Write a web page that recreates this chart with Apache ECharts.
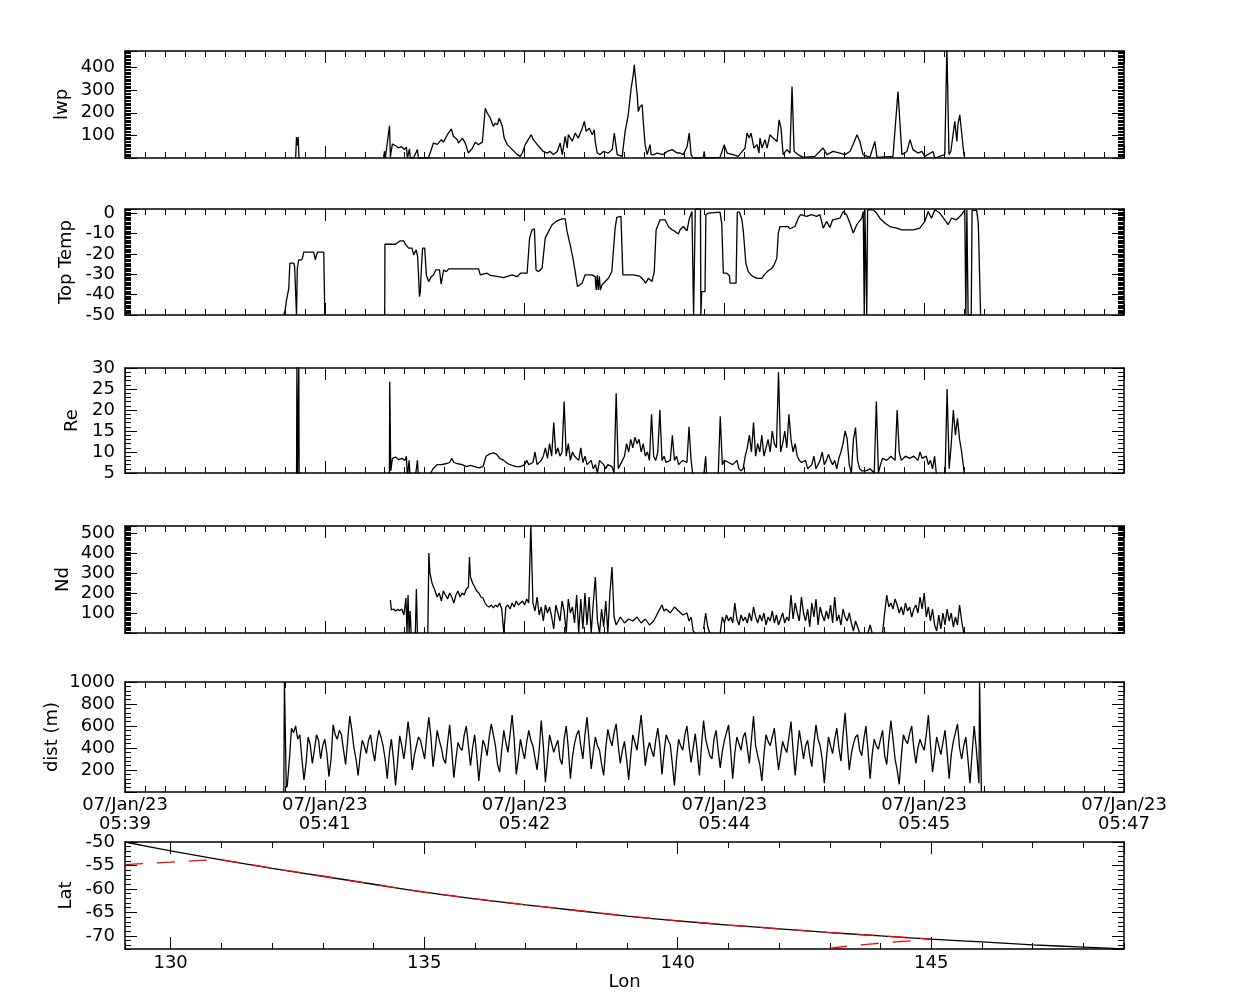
<!DOCTYPE html>
<html><head><meta charset="utf-8">
<script src="https://cdn.jsdelivr.net/npm/echarts@6/dist/echarts.min.js"></script>
<style>html,body{margin:0;padding:0;background:#fff}#c{width:1250px;height:1000px}</style>
</head><body><div id="c"></div>
<script>
// time in seconds after 07/Jan/23 05:39:00
const lwpData = [[82,0],[82.4,93],[82.8,55],[83.2,93],[83.6,0],[84,'-'],
[124.2,0],[124.7,30],[125.1,0],[127.1,143],[127.5,5],[128.5,62],[129.9,55],[131.4,45],[132.8,50],[134.3,38],[135.2,48],[135.7,0],[136.7,40],[137.1,0],[138.6,0],[140.5,37],[141,0],[145.8,0],[148.2,66],[150.1,60],[152,81],[153,70],[154.9,103],[156.8,129],[157.8,96],[159.7,81],[160.2,66],[162.1,88],[163.5,66],[165,22],[166.9,44],[168.3,70],[169.8,59],[171.7,70],[173.1,220],[174.1,198],[175.5,176],[177,140],[177.9,154],[178.9,147],[179.8,176],[181.3,140],[182.2,88],[183.7,59],[186.1,37],[188.5,15],[189.9,7],[190.9,22],[192.3,59],[195.2,103],[196.2,81],[198.1,59],[199.5,44],[201,29],[202.9,22],[204.3,29],[205.8,15],[207.7,29],[209.1,66],[210.1,15],[211.5,96],[212.5,44],[213,103],[214.9,74],[216.3,110],[217.8,88],[219.7,132],[220.7,162],[221.6,118],[223.1,132],[224.5,103],[225.5,125],[225.9,73],[226.9,22],[228.3,15],[229.8,29],[232.2,22],[234.1,37],[235.1,110],[236.5,15],[238.9,7],[240.3,118],[241.8,191],[243.2,309],[244.2,368],[244.7,412],[245.6,323],[246.1,279],[246.6,206],[247.5,228],[248.5,235],[249,162],[249.9,59],[250.9,15],[252.3,59],[252.8,15],[254.2,15],[255.7,22],[258.6,15],[260.5,29],[262.9,37],[265.3,22],[266.7,22],[268.2,15],[270.1,51],[271.1,110],[272,15],[273,0],[277.8,0],[278.3,29],[278.7,0],[285.9,3],[287.9,59],[289.3,22],[292.2,15],[294.6,7],[297.9,44],[298.9,110],[299.9,88],[300.8,110],[302.2,44],[303.7,59],[304.6,22],[305.1,88],[306.1,44],[307.5,81],[308.5,44],[309.9,103],[311.4,88],[313.3,73],[314.3,169],[315.2,132],[316.2,15],[318.1,37],[319.5,22],[320.5,316],[321.5,29],[323.4,15],[325.8,3],[331.5,7],[335.4,44],[337.3,15],[340.2,29],[343.5,22],[345.9,15],[348.3,29],[349.8,59],[351.7,103],[353.1,73],[354.6,15],[357.9,3],[360.3,73],[361.3,3],[369,7],[371.4,294],[373.3,15],[375.7,29],[377.2,81],[378.6,37],[381,22],[382.9,29],[384.3,7],[388.2,29],[389.1,0],[393.9,15],[394.9,490],[395.9,15],[396.8,30],[398.7,162],[399.7,73],[400.2,147],[401.1,191],[402.1,103],[403.1,15],[403.5,0]];

const tempData = [[76.2,-50],[76.9,-48],[77.6,-42.7],[78.2,-41.8],[78.7,-36.9],[79.2,-24.6],[81.1,-24.6],[81.5,-26.2],[81.9,-27],[82.4,-50],[82.8,-27],[83.5,-23],[84.8,-23],[85.3,-22],[85.9,-19.2],[90.6,-19.2],[91.5,-23],[92,-20.5],[92.6,-19.2],[95.5,-19.2],[96,-50],[96.3,'-'],
[124.8,-50],[124.9,-15.3],[129.9,-15.3],[132.3,-13.6],[133.9,-13.6],[134.7,-15.3],[136.3,-17.2],[137.9,-17.2],[138.7,-20.5],[139.9,-18],[140.6,-21.3],[141.5,-41],[141.9,-38.5],[142.4,-27],[143,-17.2],[144,-17.2],[144.8,-30.3],[145.9,-33.6],[147.2,-31.2],[148.3,-30.3],[149.3,-27.9],[151.1,-27.9],[151.9,-34.9],[153.1,-27.9],[154.4,-28.7],[155.5,-27.4],[169.9,-27.4],[170.7,-30.3],[174,-29.5],[175.5,-30.6],[179.5,-31.2],[181.9,-31.7],[186,-30.3],[188.4,-31.2],[190,-29.5],[193.2,-29.5],[194.4,-12.3],[195.6,-8.2],[196.7,-7.7],[197.5,-27.9],[198.7,-28.7],[200.4,-27.1],[201.1,-26.2],[201.9,-12.3],[203.5,-9],[205.2,-5.7],[207.6,-3.8],[210,-2.8],[211.5,-2.8],[212.4,-9],[213.9,-15.6],[215.2,-22],[216.3,-28.7],[217.4,-36],[219.6,-34.4],[221.1,-30.3],[224.4,-30.3],[225.9,-31.2],[226.4,-37.7],[226.9,-30.5],[227.4,-37.7],[227.9,-31],[228.4,-37.7],[229.2,-35.2],[230.7,-33.6],[232.3,-32],[233.9,-28.7],[235.5,-7.4],[236.3,-2.1],[238.3,-1.6],[239.2,-30.3],[244.3,-30.3],[247.5,-31.1],[249.1,-32.8],[250.1,-34.4],[251.5,-32],[253.2,-33.6],[254.3,-28.7],[255.2,-8.2],[257.1,-3.3],[259.5,-3.3],[261.1,-6.6],[262.8,-8.2],[264.3,-9],[265.9,-10.3],[266.7,-8.2],[268.3,-6.6],[270,-8.7],[271.2,-2.5],[272.4,0.8],[273,0.8],[273.2,-50],[273.6,-50],[274,2],[276.5,2],[276.7,-50],[277.1,-38.5],[278.7,-38.5],[279.1,-0.8],[280.3,0],[281.1,0.5],[285.9,0.5],[286.7,-4.9],[287.5,-29.5],[289.1,-29.5],[290.4,-30.6],[290.7,-34.4],[293.6,-34.4],[294.2,0.5],[295.2,0.5],[296.4,-3.3],[297.1,-9],[298.3,-24.6],[299.5,-28.7],[300.7,-30.3],[301.9,-31.2],[303.6,-32],[306,-32],[307.1,-30.3],[308.6,-28.7],[310.8,-27.1],[311.9,-25.4],[313.2,-22.1],[313.9,-9.8],[314.7,-6.6],[318.7,-6.6],[319.5,-7.7],[321.9,-6.6],[323.5,-2.5],[324.6,-0.8],[327.5,-1.6],[329.9,-0.8],[332.3,-1.6],[333.9,-0.8],[334.7,-4.1],[335.5,-7.4],[337.1,-4.1],[338.7,-7.1],[340,-3.3],[343.5,-2.5],[345.1,0.8],[346.7,-0.8],[348.3,-4.9],[349.9,-9.8],[351.6,-5.7],[354,-2.5],[354.7,0.8],[355.2,-50],[355.5,1.6],[356.4,-50],[356.8,1.6],[359.5,1.6],[361.1,0],[362.7,-2.5],[365.1,-4.9],[367.5,-6.6],[370.7,-7.4],[373.2,-8.2],[378.7,-8.2],[381.9,-7.4],[384.3,-4.1],[385.9,0.8],[387.5,-2.5],[389.1,1.6],[391.5,0],[393.9,-3.3],[395.5,-5.7],[397.1,-2.5],[399.5,-3.3],[401.9,-0.8],[403.5,1.6],[404,-50],[404.5,1.6],[405.1,-50],[406.6,-50],[407,1.3],[409.2,1.3],[410,-4.9],[410.8,-4.9],[411.1,-50]];

const reData = [[82.4,0],[82.6,31],[82.8,0],[83.3,0],[83.5,31],[83.7,0],[84,'-'],
[127,0],[127.2,26.7],[127.7,5.5],[128.5,8.5],[130,8.8],[131.5,8.2],[133,8.5],[134.5,8],[135.2,9],[135.7,4],[136.5,8],[137,4],[137.5,'-'],[139.5,4],[140.5,8],[141,4],[141.5,'-'],
[145.8,4],[148,6],[150,7],[152,7],[154,7.2],[156,7.5],[157,8.5],[158,7.5],[160,7.2],[162,7],[164,6.5],[166,6.8],[168,6.5],[170,6.2],[172,6.5],[173.5,9],[175,9.5],[177,9.8],[178.5,9.5],[180,8.5],[182,8],[184,7.2],[186,6.8],[188,6.5],[190,6.5],[192,7],[193,8],[194,7],[196,7.5],[197,10],[198,7],[200,8],[201,9],[202,11],[203,8.5],[204,12],[205,9],[206,17],[207,9.5],[208,11],[209,9],[210,10],[211,22],[212,9],[213,12],[214,8],[215,10],[216,9],[218,8],[219,11],[220,7.5],[221,9],[222,7],[224,8],[225,6],[226,7],[227,5],[228,8],[230,7],[231,6],[232,7],[234,6.5],[235,5],[236,24],[237,6],[238,7],[240,9],[241,12],[242,10],[243,13],[244,11],[245,13.5],[246,12],[247,13],[248,10],[249,12],[250,9],[251,10],[252,8],[253,19],[254,9],[255,8],[256,10],[257,20],[258,8],[259,9],[260,7.5],[262,8],[263,14],[264,8],[265,9],[266,7],[268,8],[270,7.5],[271,16],[272,8],[273,4],[273.5,'-'],[278,4],[279,9],[279.5,4],[280,'-'],
[285,4],[286,18.5],[287,7],[288,8],[290,7.5],[292,7],[294,8],[295,6],[296,5.5],[297,6],[298,9],[299,11],[300,14],[301,10],[302,17],[303,9],[304,12],[305,10],[306,14],[307,9],[308,11],[309,13],[310,10],[311,15],[312,12],[313,11],[314,29],[315,10],[316,12],[317,15],[318,11],[319,19],[320,13],[321,10],[322,12],[323,9],[324,8],[325,7.5],[327,8],[328,6],[330,7],[331,9],[332,6],[334,8],[335,10],[336,7],[337,8],[338,9.5],[339,8],[340,7],[341,8],[342,6],[343,8.5],[344,10],[345,12],[346,15],[347,13],[348,7],[349,5],[350,13],[351,15.8],[352,8],[353,6],[354,5.5],[356,5.5],[358,6],[360,5],[361,22],[362,5],[363,7],[364,8.5],[366,8],[368,9],[370,8],[371,20],[372,10],[373,8],[375,9],[377,8.5],[379,9],[381,8],[382,10],[383,8.5],[385,9],[386,7],[387,8],[388,6],[389,9],[390,4],[394,4],[395,25],[396,6],[397,12],[398,20],[399,14],[400,18],[401,13],[402,10],[403,6],[403.5,4]];

const ndData = [[127.5,165],[128,115],[129,120],[130,110],[131,118],[132,112],[133,120],[134,90],[135,175],[135.5,0],[136,190],[136.5,0],[137,110],[137.5,0],[138,'-'],[139.5,0],[140,220],[140.5,0],[141,'-'],
[145.5,0],[146,400],[146.5,300],[147.5,250],[149,210],[150,180],[151,200],[152,160],[153,210],[154,190],[155,170],[156,200],[157,180],[158,150],[159,190],[160,210],[161,180],[162,200],[163,190],[164,220],[165,230],[165.5,380],[166,280],[167,250],[168,230],[169,210],[170,200],[171,180],[172,175],[173,150],[174,135],[175,130],[176,140],[177,125],[178,140],[179,130],[180,150],[181,120],[182,0],[183,130],[184,140],[185,120],[186,150],[187,130],[188,160],[189,140],[190,150],[191,160],[192,140],[193,170],[194,150],[195,540],[196,150],[197,110],[198,180],[199,90],[200,130],[201,60],[202,140],[203,100],[204,130],[205,80],[206,20],[207,140],[208,100],[209,60],[210,160],[211,110],[212,0],[213,170],[214,100],[215,130],[216,50],[217,190],[218,0],[219,170],[220,20],[221,200],[222,40],[223,180],[224,0],[225,150],[226,280],[227,60],[228,0],[229,120],[230,30],[231,160],[232,0],[233,200],[234,330],[235,80],[236,40],[237,60],[238,80],[240,50],[242,70],[244,60],[246,80],[248,50],[250,70],[252,40],[254,60],[256,100],[258,140],[259,110],[260,120],[262,100],[264,130],[266,110],[268,90],[270,100],[271,60],[272,80],[273,10],[274,0],[274.5,'-'],[278,20],[279,100],[280,30],[281,0],[281.5,'-'],
[286,0],[287,80],[288,50],[289,90],[290,60],[291,80],[292,50],[293,150],[294,70],[295,40],[296,90],[297,60],[298,80],[299,50],[300,100],[301,60],[302,130],[303,80],[304,50],[305,90],[306,60],[307,100],[308,40],[309,80],[310,60],[311,110],[312,50],[313,90],[314,40],[315,70],[316,100],[317,50],[318,80],[319,60],[320,190],[321,70],[322,150],[323,100],[324,60],[325,180],[326,100],[327,60],[328,120],[329,30],[330,150],[331,80],[332,170],[333,40],[334,130],[335,90],[336,60],[337,110],[338,70],[339,140],[340,50],[341,180],[342,60],[343,90],[344,40],[345,120],[346,80],[347,60],[348,100],[349,50],[350,10],[351,60],[352,30],[353,0],[353.5,'-'],[357,0],[358,40],[359,0],[359.5,'-'],
[364,0],[365,100],[366,190],[367,130],[368,150],[369,120],[370,170],[371,140],[372,100],[373,130],[374,90],[375,150],[376,110],[377,130],[378,80],[379,120],[380,140],[381,100],[382,180],[383,120],[384,200],[385,80],[386,130],[387,60],[388,120],[389,40],[390,10],[391,90],[392,20],[393,100],[394,40],[395,120],[396,60],[397,100],[398,30],[399,80],[400,40],[401,140],[402,60],[403,0]];

// dist: one sample per second from t = 78 s
const distStart = 78, distStep = 1;
const distValues = [
60,300,580,540,600,480,520,300,110,260,500,430,260,380,520,470,300,420,480,350,
140,300,610,520,480,560,520,380,250,470,690,560,400,300,150,330,470,420,350,470,
520,380,280,450,560,500,420,300,120,350,480,300,60,280,510,420,300,450,640,480,
200,330,420,500,470,380,300,520,680,500,230,380,560,470,400,300,260,450,610,380,
130,300,450,400,380,520,600,420,240,400,520,330,100,300,470,420,330,500,620,520,
420,250,180,380,560,450,360,520,700,480,160,300,480,380,300,450,560,470,420,310,
200,380,650,420,90,300,520,440,360,420,470,300,250,480,600,400,120,320,440,520,
560,420,300,520,680,460,210,360,500,420,380,250,150,400,570,480,420,540,620,420,
260,380,460,300,110,330,520,450,380,540,700,480,240,380,450,380,320,470,580,420,
160,360,520,470,430,250,60,300,480,420,380,520,600,420,270,400,530,360,150,420,
650,480,400,330,300,480,560,380,220,370,470,540,610,380,120,350,500,440,380,500,
540,400,260,480,690,420,330,250,100,340,520,460,420,500,580,380,200,330,460,400,
360,500,640,380,150,360,560,440,300,420,470,330,230,440,610,480,420,300,80,300,
500,420,350,480,580,400,280,520,720,450,200,350,440,500,520,380,330,480,600,380,
120,340,480,420,390,480,560,330,250,470,650,480,300,200,70,320,520,470,440,530,
600,400,260,400,480,420,380,520,700,430,180,330,500,420,340,450,560,360,120,340,
460,540,620,400,300,420,500,300,80,350,600,400];
const distHead = [[76.3,0],[76.6,1000],[77.2,1000],[77.5,40]];
const distTail = [[410.3,80],[410.6,1000],[411.2,1000],[411.5,0]];

const trackLon = [129.1,130,131,132,133,134,135,136,137,138,139,140,141,142,143,144,145,146,147,148,148.8];
const trackLat = [-50.0,-51.9,-53.8,-55.6,-57.3,-59.0,-60.7,-62.1,-63.4,-64.6,-65.8,-66.8,-67.7,-68.5,-69.3,-70.0,-70.7,-71.3,-71.9,-72.4,-72.8];
const redLon = [129.1,130,130.6,131,132,133,134,135,136,137,138,139,140,141,142,143,144,145,144.3,143.5,142.8];
const redLat = [-54.8,-54.3,-53.9,-53.8,-55.6,-57.3,-59.0,-60.7,-62.1,-63.4,-64.6,-65.8,-66.8,-67.7,-68.5,-69.3,-70.0,-70.7,-71.3,-72.0,-72.9];

const panelNames = ['lwp','Top Temp','Re','Nd','dist (m)','Lat'];
const dateLabel = '07/Jan/23';
const startMinute = 39;

// ---------------- build ----------------
const BLACK = '#000';
const FONT = 'DejaVu Sans';
const distData = distHead.concat(distValues.map((v,i)=>[distStart + i*distStep, v])).concat(distTail);
const trackData = trackLon.map((x,i)=>[x, trackLat[i]]);
const redData = redLon.map((x,i)=>[x, redLat[i]]);

const layout = [
  {top:51, height:107}, {top:209, height:106}, {top:368, height:105},
  {top:526, height:107}, {top:682, height:110}, {top:842, height:107}, {top:842, height:107}
];
const grids = layout.map(l => ({left:125, width:999, top:l.top, height:l.height, containLabel:false, outerBoundsMode:'none'}));

const yCfg = [
  {min:0, max:473, step:100, aligned:true, minor:16, gap:54, hideMin:true, hideMax:true},
  {min:-50, max:2, step:10, aligned:true, minor:16, gap:50, hideMin:false, hideMax:true},
  {min:5, max:30, step:5, aligned:true, minor:5, gap:44, hideMin:false, hideMax:false},
  {min:0, max:535, step:100, aligned:true, minor:16, gap:53, hideMin:true, hideMax:true},
  {min:0, max:1000, step:200, aligned:true, minor:5, gap:64, hideMin:true, hideMax:false},
  {min:-72.8, max:-50, step:5, aligned:false, minor:0, gap:50, hideMin:true, hideMax:false}
];

const lineS = {color:BLACK, width:1.5};
const tickS = {color:BLACK, width:1};
const labelBase = {color:BLACK, fontFamily:FONT, fontSize:18};
const plainNum = v => String(Math.round(v * 1000) / 1000);

const xAxes = [], yAxes = [];
function tickAxis(o, step, aligned) {
  if (aligned) o.interval = step; else { o.minInterval = step; o.maxInterval = step; o.splitNumber = 5; }
  return o;
}
for (let g = 0; g < 5; g++) {
  ['bottom','top'].forEach(pos => {
    xAxes.push({
      type:'value', gridIndex:g, position:pos, min:0, max:480, interval:96,
      axisLine:{show:true, onZero:false, lineStyle:lineS},
      axisTick:{show:true, inside:true, length:12, lineStyle:tickS},
      minorTick:{show:true, splitNumber:10, length:6, lineStyle:tickS},
      splitLine:{show:false},
      axisLabel:{show: (g===4 && pos==='bottom'), ...labelBase, margin:4, lineHeight:19,
        formatter: v => { const m = Math.round(startMinute + v/60); return dateLabel + '\n05:' + String(m).padStart(2,'0'); }}
    });
  });
}
['bottom','top'].forEach(pos => {
  xAxes.push(tickAxis({
    type:'value', gridIndex:5, position:pos, min:129.1, max:148.8,
    axisLine:{show:true, onZero:false, lineStyle:lineS},
    axisTick:{show:true, inside:true, length:12, lineStyle:tickS},
    splitLine:{show:false},
    axisLabel:{show: pos==='bottom', ...labelBase, margin:5, showMinLabel:false, showMaxLabel:false, formatter: plainNum},
    name: pos==='bottom' ? 'Lon' : '', nameLocation:'middle', nameGap:24, nameMoveOverlap:false,
    nameTextStyle:{...labelBase}
  }, 5, false));
});
['bottom','top'].forEach(pos => {
  xAxes.push(tickAxis({
    type:'value', gridIndex:6, position:pos, min:129.1, max:148.8,
    axisLine:{show:false, onZero:false},
    axisTick:{show:true, inside:true, length:6, lineStyle:tickS},
    splitLine:{show:false}, axisLabel:{show:false}
  }, 1, false));
});
for (let g = 0; g < 6; g++) {
  const c = yCfg[g];
  ['left','right'].forEach(pos => {
    const o = {
      type:'value', gridIndex:g, position:pos, min:c.min, max:c.max,
      axisLine:{show:true, onZero:false, lineStyle:lineS},
      axisTick:{show:true, inside:true, length:12, lineStyle:tickS},
      minorTick:{show:c.minor>0, splitNumber:c.minor||5, length:6, lineStyle:tickS},
      splitLine:{show:false},
      axisLabel:{show: pos==='left', ...labelBase, margin:10, showMinLabel:!c.hideMin, showMaxLabel:!c.hideMax, formatter: plainNum}
    };
    if (pos === 'left') {
      o.name = panelNames[g]; o.nameLocation = 'middle'; o.nameGap = c.gap; o.nameMoveOverlap = false;
      o.nameTextStyle = {...labelBase};
    }
    yAxes.push(tickAxis(o, c.step, c.aligned));
  });
}
['left','right'].forEach(pos => {
  yAxes.push(tickAxis({
    type:'value', gridIndex:6, position:pos, min:-72.8, max:-50,
    axisLine:{show:false, onZero:false},
    axisTick:{show:true, inside:true, length:6, lineStyle:tickS},
    splitLine:{show:false}, axisLabel:{show:false}
  }, 1, false));
});

function line(data, g, extra) {
  return Object.assign({
    type:'line', data, xAxisIndex: g*2, yAxisIndex: g*2, showSymbol:false, symbol:'none',
    connectNulls:false, clip:true, animation:false,
    lineStyle:{color:BLACK, width:1.3}, z:3
  }, extra || {});
}
const series = [
  line(lwpData, 0), line(tempData, 1), line(reData, 2), line(ndData, 3), line(distData, 4),
  line(trackData, 5, {smooth:0.3}),
  line(redData, 5, {lineStyle:{color:'#ff0000', width:1.3, type:[18,14]}, z:4})
];

const chart = echarts.init(document.getElementById('c'), null, {renderer:'canvas'});
chart.setOption({
  animation:false, backgroundColor:'#fff',
  textStyle:{fontFamily:FONT},
  grid:grids, xAxis:xAxes, yAxis:yAxes, series
});
</script></body></html>
